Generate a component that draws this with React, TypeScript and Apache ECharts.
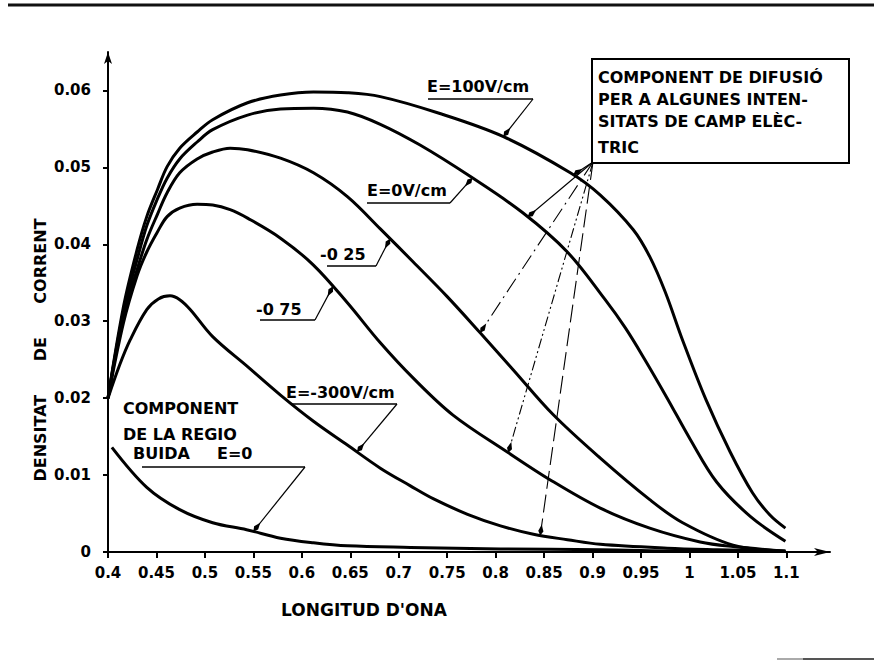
import React, { useEffect, useRef } from 'react';
import * as echarts from 'echarts';

// ---- Axis ticks ----
const xTicks = [0.4, 0.45, 0.5, 0.55, 0.6, 0.65, 0.7, 0.75, 0.8, 0.85, 0.9, 0.95, 1.0, 1.05, 1.1];
const xTickLabels = ['0.4', '0.45', '0.5', '0.55', '0.6', '0.65', '0.7', '0.75', '0.8', '0.85', '0.9', '0.95', '1', '1.05', '1.1'];
const yTicks = [0, 0.01, 0.02, 0.03, 0.04, 0.05, 0.06];
const yTickLabels = ['0', '0.01', '0.02', '0.03', '0.04', '0.05', '0.06'];

// ---- Curves (longitud d'ona, densitat de corrent) ----
const e100X = [0.4, 0.416, 0.43, 0.44, 0.451, 0.461, 0.474, 0.492, 0.508, 0.544, 0.578, 0.612, 0.647, 0.681, 0.74, 0.808, 0.877, 0.908, 0.942, 0.959, 0.975, 0.993, 1.017, 1.042, 1.065, 1.083, 1.099];
const e100Y = [0.02, 0.0319, 0.0393, 0.0436, 0.0471, 0.0501, 0.0525, 0.0546, 0.0562, 0.0584, 0.0594, 0.0598, 0.0597, 0.0592, 0.0571, 0.054, 0.0493, 0.0464, 0.0419, 0.0384, 0.0338, 0.0275, 0.0198, 0.013, 0.0077, 0.0048, 0.0031];

const e0X = [0.4, 0.416, 0.43, 0.44, 0.451, 0.461, 0.474, 0.492, 0.508, 0.544, 0.578, 0.612, 0.647, 0.681, 0.722, 0.774, 0.828, 0.874, 0.913, 0.934, 0.954, 0.977, 1.001, 1.028, 1.063, 1.099];
const e0Y = [0.02, 0.0313, 0.038, 0.0424, 0.0459, 0.0486, 0.0511, 0.0533, 0.0549, 0.0568, 0.0576, 0.0577, 0.0572, 0.0556, 0.0529, 0.0488, 0.0441, 0.039, 0.0328, 0.0291, 0.025, 0.02, 0.0146, 0.0091, 0.0046, 0.0014];

const m025X = [0.4, 0.416, 0.43, 0.44, 0.451, 0.461, 0.474, 0.492, 0.508, 0.526, 0.544, 0.578, 0.612, 0.647, 0.681, 0.715, 0.75, 0.784, 0.818, 0.859, 0.908, 0.959, 0.993, 1.045, 1.099];
const m025Y = [0.02, 0.0307, 0.0367, 0.0406, 0.0439, 0.0467, 0.0493, 0.0511, 0.052, 0.0525, 0.0523, 0.0512, 0.0493, 0.0462, 0.042, 0.0377, 0.0332, 0.0285, 0.0237, 0.0179, 0.0122, 0.0068, 0.0038, 0.0009, 0.0001];

const m075X = [0.4, 0.416, 0.43, 0.44, 0.451, 0.461, 0.474, 0.492, 0.508, 0.526, 0.544, 0.578, 0.612, 0.647, 0.681, 0.715, 0.756, 0.812, 0.856, 0.908, 0.959, 1.011, 1.045, 1.099];
const m075Y = [0.02, 0.0298, 0.0359, 0.039, 0.0416, 0.0436, 0.0447, 0.0452, 0.0451, 0.0445, 0.0434, 0.0408, 0.0373, 0.0324, 0.0272, 0.0226, 0.0178, 0.013, 0.0094, 0.0057, 0.0031, 0.0013, 0.0007, 0.0001];

const m300X = [0.4, 0.412, 0.423, 0.44, 0.452, 0.464, 0.474, 0.485, 0.508, 0.544, 0.578, 0.612, 0.647, 0.681, 0.712, 0.736, 0.771, 0.805, 0.839, 0.874, 0.908, 0.977, 1.029, 1.099];
const m300Y = [0.02, 0.0243, 0.0276, 0.0315, 0.0329, 0.0333, 0.0328, 0.0315, 0.028, 0.0241, 0.0204, 0.017, 0.0139, 0.0109, 0.0086, 0.0069, 0.0049, 0.0034, 0.0023, 0.0016, 0.001, 0.0005, 0.0003, 0.0001];

const buidaX = [0.404, 0.44, 0.474, 0.508, 0.543, 0.578, 0.612, 0.647, 0.712, 0.805, 0.908, 1.011, 1.099];
const buidaY = [0.0136, 0.0084, 0.0055, 0.0038, 0.0029, 0.0018, 0.0012, 0.0008, 0.0006, 0.0004, 0.0003, 0.0001, 0.0001];

const curves = [
  { name: 'E=100V/cm', xs: e100X, ys: e100Y },
  { name: 'E=0V/cm', xs: e0X, ys: e0Y },
  { name: '-0 25', xs: m025X, ys: m025Y },
  { name: '-0 75', xs: m075X, ys: m075Y },
  { name: 'E=-300V/cm', xs: m300X, ys: m300Y },
  { name: 'COMPONENT DE LA REGIO BUIDA E=0', xs: buidaX, ys: buidaY },
];

// ---- Annotation texts ----
const boxLines = ['COMPONENT DE DIFUSIÓ', 'PER A ALGUNES INTEN-', 'SITATS DE CAMP ELÈC-', 'TRIC'];
const buidaLines = ['COMPONENT', 'DE LA REGIO', 'BUIDA', 'E=0'];
const xName = "LONGITUD D'ONA";
const yName = 'DENSITAT      DE      CORRENT';

// where leader arrows touch the curves: [curve index, wavelength]
const labelTips: [number, number][] = [
  [0, 0.808],
  [1, 0.776],
  [2, 0.691],
  [3, 0.632],
  [4, 0.657],
  [5, 0.55],
];
const boxTips: [number, number][] = [
  [0, 0.88],
  [1, 0.833],
  [2, 0.784],
  [3, 0.813],
  [4, 0.846],
];

const FONT = 'DejaVu Sans';

function interp(ci: number, x: number): [number, number] {
  const { xs, ys } = curves[ci];
  for (let i = 0; i < xs.length - 1; i++) {
    if (x >= xs[i] && x <= xs[i + 1]) {
      const t = (x - xs[i]) / (xs[i + 1] - xs[i]);
      return [x, ys[i] + t * (ys[i + 1] - ys[i])];
    }
  }
  return [x, ys[ys.length - 1]];
}

function txt(text: string, x: number, y: number, size = 16, align = 'left', rotation = 0) {
  return {
    type: 'text',
    x,
    y,
    rotation,
    silent: true,
    style: {
      text,
      fill: '#000',
      fontSize: size,
      fontWeight: 'bold',
      fontFamily: FONT,
      align,
      textAlign: align,
      verticalAlign: 'middle',
      textVerticalAlign: 'middle',
    },
  };
}

function line(x1: number, y1: number, x2: number, y2: number, w = 1.2, dash?: number[], color = '#000') {
  return {
    type: 'line',
    silent: true,
    shape: { x1, y1, x2, y2 },
    style: { stroke: color, lineWidth: w, lineDash: dash || null },
  };
}

function arrowHead(tip: number[], from: number[]) {
  const dx = tip[0] - from[0];
  const dy = tip[1] - from[1];
  const L = Math.hypot(dx, dy) || 1;
  const ux = dx / L, uy = dy / L;
  const nx = -uy, ny = ux;
  const len = 11, hw = 2.6;
  const b = [tip[0] - ux * len, tip[1] - uy * len];
  const m = [tip[0] - ux * len * 0.4, tip[1] - uy * len * 0.4];
  return {
    type: 'polygon',
    silent: true,
    shape: { points: [tip, [m[0] + nx * hw, m[1] + ny * hw], b, [m[0] - nx * hw, m[1] - ny * hw]] },
    style: { fill: '#000' },
  };
}

export default function App() {
  const ref = useRef<HTMLDivElement>(null);

  useEffect(() => {
    if (!ref.current) return;
    const chart = echarts.init(ref.current, null, { renderer: 'svg' });

    const labelStyle = { color: '#000', fontSize: 15, fontWeight: 'bold', fontFamily: FONT };

    chart.setOption({
      animation: false,
      backgroundColor: '#fff',
      grid: { left: 108, right: 44, top: 52, bottom: 108, containLabel: false },
      xAxis: {
        type: 'value',
        min: 0.4,
        max: 1.145,
        axisLine: {
          show: true,
          onZero: false,
          lineStyle: { color: '#000', width: 2 },
          symbol: ['none', 'arrow'],
          symbolSize: [6, 16],
        },
        axisTick: { show: true, length: 6, lineStyle: { color: '#000', width: 2 }, customValues: xTicks },
        axisLabel: {
          ...labelStyle,
          margin: 13,
          customValues: xTicks,
          formatter: (v: number) => {
            const i = xTicks.findIndex((t) => Math.abs(t - v) < 1e-6);
            return i >= 0 ? xTickLabels[i] : '';
          },
        },
        splitLine: { show: false },
      },
      yAxis: {
        type: 'value',
        min: 0,
        max: 0.065,
        axisLine: {
          show: true,
          onZero: false,
          lineStyle: { color: '#000', width: 2 },
          symbol: ['none', 'arrow'],
          symbolSize: [6, 12],
        },
        axisTick: { show: true, length: 5, lineStyle: { color: '#000', width: 2 }, customValues: yTicks },
        axisLabel: {
          ...labelStyle,
          margin: 17,
          customValues: yTicks,
          formatter: (v: number) => {
            const i = yTicks.findIndex((t) => Math.abs(t - v) < 1e-9);
            return i >= 0 ? yTickLabels[i] : '';
          },
        },
        splitLine: { show: false },
      },
      series: curves.map((c) => ({
        type: 'line',
        name: c.name,
        data: c.xs.map((x, i) => [x, c.ys[i]]),
        smooth: 0.35,
        showSymbol: false,
        symbol: 'none',
        silent: true,
        lineStyle: { color: '#000', width: 3 },
      })),
    });

    const px = (t: [number, number]) => chart.convertToPixel({ gridIndex: 0 }, interp(t[0], t[1])) as number[];

    const g: any[] = [];
    // top rule and bottom-right scan line
    g.push(line(8, 5, 874, 5, 3, undefined, '#111'));
    g.push(line(777, 659, 803, 659, 2, undefined, '#aaa'));
    g.push(line(803, 659, 874, 659, 2, undefined, '#555'));

    // axis names
    g.push(txt(xName, 364, 610, 17, 'center'));
    g.push(txt(yName, 40, 350, 16, 'center', Math.PI / 2));

    // labelled curves: [text, textX, textY, underline x1, x2, y]
    const labels: [string, number, number, number, number, number][] = [
      ['E=100V/cm', 427, 86, 428, 533, 99],
      ['E=0V/cm', 367, 190, 367, 450, 203],
      ['-0 25', 320, 254, 327, 376, 266],
      ['-0 75', 256, 309, 260, 315, 320],
      ['E=-300V/cm', 286, 392, 292, 397, 404],
    ];
    labels.forEach((l, i) => {
      g.push(txt(l[0], l[1], l[2], 16));
      const from = [l[4], l[5]];
      const tip = px(labelTips[i]);
      g.push(line(l[3], l[5], l[4], l[5], 1.4));
      g.push(line(from[0], from[1], tip[0], tip[1], 1.2));
      g.push(arrowHead(tip, from));
    });

    // vacuum component label
    g.push(txt(buidaLines[0], 123, 408, 16));
    g.push(txt(buidaLines[1], 123, 434, 16));
    g.push(txt(buidaLines[2], 133, 453, 16));
    g.push(txt(buidaLines[3], 217, 453, 16));
    {
      const from = [305, 467];
      const tip = px(labelTips[5]);
      g.push(line(142, 467, 305, 467, 1.4));
      g.push(line(from[0], from[1], tip[0], tip[1], 1.2));
      g.push(arrowHead(tip, from));
    }

    // diffusion box
    g.push({
      type: 'rect',
      silent: true,
      shape: { x: 592, y: 59, width: 257, height: 104 },
      style: { fill: '#fff', stroke: '#000', lineWidth: 2 },
    });
    const boxY = [77, 99, 121, 147];
    boxLines.forEach((t, i) => g.push(txt(t, 598, boxY[i], 16)));

    const corner = [593, 162];
    const dashes: (number[] | undefined)[] = [undefined, undefined, [16, 5, 2, 5], [10, 3, 2, 3, 2, 3], [18, 6]];
    boxTips.forEach((t, i) => {
      const tip = px(t);
      g.push(line(corner[0], corner[1], tip[0], tip[1], 1.1, dashes[i]));
      g.push(arrowHead(tip, corner));
    });

    chart.setOption({ graphic: g });

    return () => chart.dispose();
  }, []);

  return (
    <div
      ref={ref}
      style={{ position: 'absolute', left: 0, top: 0, width: 874, height: 660, background: '#fff' }}
    />
  );
}
